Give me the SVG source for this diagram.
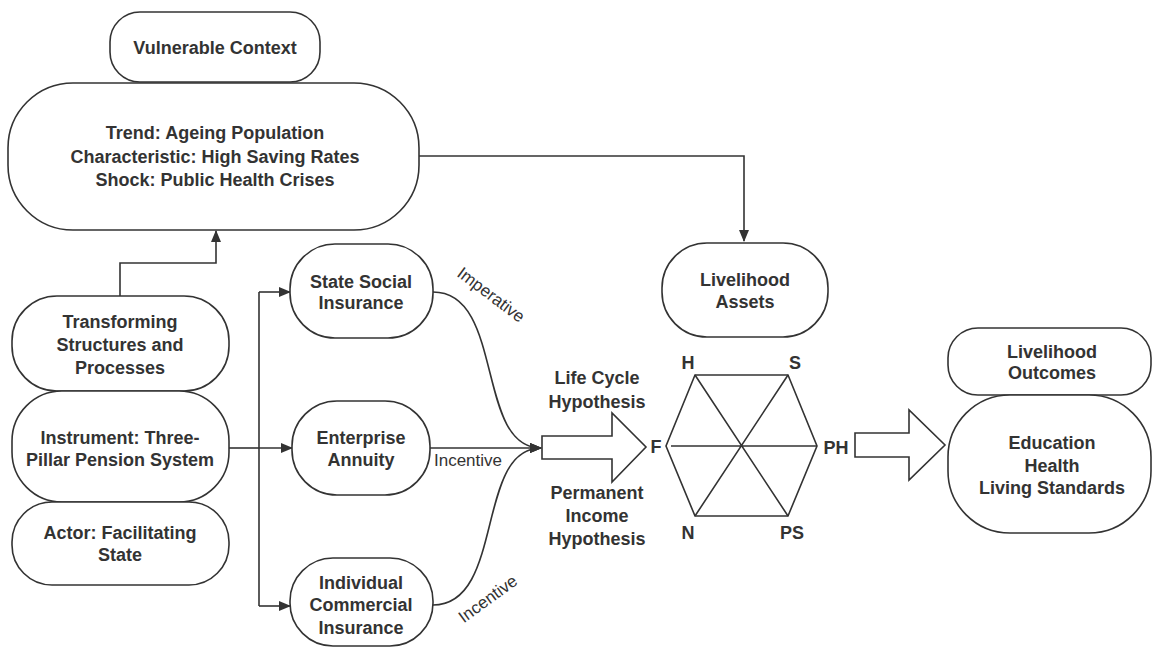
<svg xmlns="http://www.w3.org/2000/svg" width="1153" height="647" viewBox="0 0 1153 647">
<style>
.box{fill:#fff;stroke:#333;stroke-width:1.6}
.t{font-family:"Liberation Sans",Arial,sans-serif;font-weight:bold;font-size:18px;fill:#333;text-anchor:middle;dominant-baseline:central}
.s{font-family:"Liberation Sans",Arial,sans-serif;font-size:17px;fill:#333;text-anchor:middle;dominant-baseline:central}
.c{fill:none;stroke:#333;stroke-width:1.6}
</style>
<defs>
<marker id="ah" markerWidth="12" markerHeight="10" refX="11" refY="5" orient="auto" markerUnits="userSpaceOnUse">
<path d="M0,0 L12,5 L0,10 Z" fill="#333"/>
</marker>
</defs>
<rect width="1153" height="647" fill="#fff"/>

<g id="connectors">
<path class="c" d="M419,156 H744 V241" marker-end="url(#ah)"/>
<path class="c" d="M120,296 V263 H216 V231" marker-end="url(#ah)"/>
<path class="c" d="M229,448 H259"/>
<path class="c" d="M259,292 V606"/>
<path class="c" d="M259,292 H290" marker-end="url(#ah)"/>
<path class="c" d="M259,448 H292" marker-end="url(#ah)"/>
<path class="c" d="M259,606 H290" marker-end="url(#ah)"/>
<path class="c" d="M433,292 C505,292 475,448 541,448" marker-end="url(#ah)"/>
<path class="c" d="M430,448 H541" marker-end="url(#ah)"/>
<path class="c" d="M433,605 C505,605 475,448 541,448" marker-end="url(#ah)"/>
<text class="s" transform="translate(491,295) rotate(37)">Imperative</text>
<text class="s" x="468" y="460">Incentive</text>
<text class="s" transform="translate(488,599) rotate(-36)">Incentive</text>
</g>

<g id="vulnerable-context">
<rect class="box" x="110" y="12" width="210" height="70" rx="30"/>
<text class="t" x="215" y="48">Vulnerable Context</text>
</g>

<g id="context-details">
<rect class="box" x="8" y="83" width="411" height="147" rx="65"/>
<text class="t" x="215" y="133">Trend: Ageing Population</text>
<text class="t" x="215" y="157">Characteristic: High Saving Rates</text>
<text class="t" x="215" y="180">Shock: Public Health Crises</text>
</g>

<g id="transforming">
<rect class="box" x="12" y="296" width="217" height="95" rx="45"/>
<text class="t" x="120" y="322">Transforming</text>
<text class="t" x="120" y="345">Structures and</text>
<text class="t" x="120" y="368">Processes</text>
</g>

<g id="instrument">
<rect class="box" x="12" y="391" width="217" height="111" rx="50"/>
<text class="t" x="120" y="438">Instrument: Three-</text>
<text class="t" x="120" y="460">Pillar Pension System</text>
</g>

<g id="actor">
<rect class="box" x="12" y="502" width="217" height="83" rx="40"/>
<text class="t" x="120" y="533">Actor: Facilitating</text>
<text class="t" x="120" y="555">State</text>
</g>

<g id="state-social">
<rect class="box" x="290" y="244" width="143" height="94" rx="45"/>
<text class="t" x="361" y="282">State Social</text>
<text class="t" x="361" y="303">Insurance</text>
</g>

<g id="enterprise">
<rect class="box" x="292" y="401" width="138" height="94" rx="45"/>
<text class="t" x="361" y="438">Enterprise</text>
<text class="t" x="361" y="460">Annuity</text>
</g>

<g id="individual">
<rect class="box" x="290" y="558" width="143" height="88" rx="43"/>
<text class="t" x="361" y="583">Individual</text>
<text class="t" x="361" y="605">Commercial</text>
<text class="t" x="361" y="628">Insurance</text>
</g>

<g id="livelihood-assets">
<rect class="box" x="662" y="243" width="166" height="94" rx="45"/>
<text class="t" x="745" y="280">Livelihood</text>
<text class="t" x="745" y="302">Assets</text>
</g>

<g id="arrow-hypothesis">
<path class="box" d="M542,436 H612 V413 L646,447 L612,482 V459 H542 Z"/>
<text class="t" x="597" y="378">Life Cycle</text>
<text class="t" x="597" y="402">Hypothesis</text>
<text class="t" x="597" y="493">Permanent</text>
<text class="t" x="597" y="516">Income</text>
<text class="t" x="597" y="539">Hypothesis</text>
</g>

<g id="hexagon">
<path class="box" d="M695,375 L788,375 L817,446 L788,516 L695,516 L666,446 Z"/>
<path class="c" d="M695,375 L788,516 M788,375 L695,516 M671,446 L817,446"/>
<text class="t" x="656" y="447">F</text>
<text class="t" x="688" y="363">H</text>
<text class="t" x="795" y="363">S</text>
<text class="t" x="836" y="448">PH</text>
<text class="t" x="688" y="533">N</text>
<text class="t" x="792" y="533">PS</text>
</g>

<g id="arrow-outcomes">
<path class="box" d="M855,433 H909 V410 L945,445 L909,480 V457 H855 Z"/>
</g>

<g id="livelihood-outcomes">
<rect class="box" x="948" y="328" width="203" height="67" rx="30"/>
<text class="t" x="1052" y="352">Livelihood</text>
<text class="t" x="1052" y="373">Outcomes</text>
</g>

<g id="outcomes-details">
<rect class="box" x="948" y="395" width="203" height="138" rx="62"/>
<text class="t" x="1052" y="443">Education</text>
<text class="t" x="1052" y="466">Health</text>
<text class="t" x="1052" y="488">Living Standards</text>
</g>
</svg>
